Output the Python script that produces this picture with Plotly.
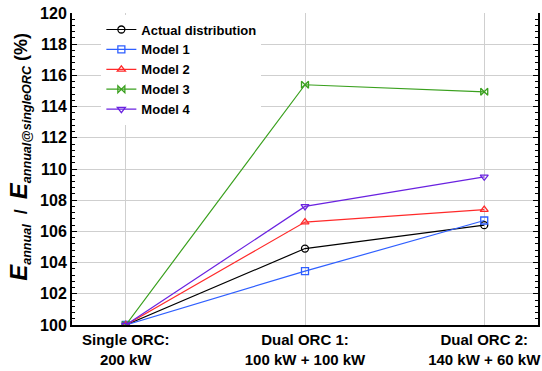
import plotly.graph_objects as go

# Configurations compared
categories = ["Single ORC:<br>200 kW", "Dual ORC 1:<br>100 kW + 100 kW", "Dual ORC 2:<br>140 kW + 60 kW"]

# Annual energy relative to the single-ORC case (%)
actual = [100.0, 104.9, 106.4]
model1 = [100.0, 103.45, 106.7]
model2 = [100.0, 106.6, 107.4]
model3 = [100.0, 115.4, 114.95]
model4 = [100.0, 107.6, 109.5]

series = [
    ("Actual distribution", actual, "#000000", "circle-open"),
    ("Model 1", model1, "#2f5fff", "square-open"),
    ("Model 2", model2, "#ff2a2a", "triangle-up-open"),
    ("Model 3", model3, "#3aa01e", "bowtie-open"),
    ("Model 4", model4, "#6a22e0", "triangle-down-open"),
]

FONT = "Liberation Sans, Arial, sans-serif"

fig = go.Figure()
for name, vals, color, symbol in series:
    fig.add_trace(go.Scatter(
        x=list(range(len(categories))), y=vals, name=f"<b>{name}</b>",
        mode="lines+markers",
        line=dict(color=color, width=1.2),
        marker=dict(symbol=symbol, size=7, color=color, line=dict(color=color, width=1.3)),
    ))

fig.update_layout(
    width=542, height=371,
    margin=dict(l=72, r=2, t=13, b=46),
    plot_bgcolor="white", paper_bgcolor="white",
    font=dict(family=FONT, color="black"),
    showlegend=True,
    legend=dict(
        x=0.063, y=0.995, xanchor="left", yanchor="top",
        bgcolor="white", borderwidth=0,
        font=dict(family=FONT, size=13, color="black"),
        tracegroupgap=0, itemwidth=30,
    ),
    xaxis=dict(
        range=[-0.3, 2.3],
        tickmode="array", tickvals=list(range(len(categories))), ticktext=[f"<b>{c}</b>" for c in categories],
        tickfont=dict(family=FONT, size=15, color="black"),
        showgrid=True, gridcolor="#cfcfcf", gridwidth=1.2,
        showline=True, linecolor="black", linewidth=2,
        ticks="", zeroline=False,
    ),
    yaxis=dict(
        range=[100, 120], dtick=2, tick0=100,
        tickfont=dict(family=FONT, size=16, color="black"),
        tickprefix="<b>", ticksuffix="</b>",
        showgrid=True, gridcolor="#cfcfcf", gridwidth=1.2,
        showline=True, linecolor="black", linewidth=2, mirror="ticks",
        ticks="inside", ticklen=5, tickcolor="black", tickwidth=1,
        minor=dict(dtick=0.4, ticks="inside", ticklen=3, tickcolor="black", tickwidth=1, showgrid=False),
        zeroline=False,
    ),
)

# Rotated axis title with italic symbols and subscripts
fig.add_annotation(
    xref="paper", yref="paper", x=-0.113, y=0.54,
    xanchor="center", yanchor="middle", textangle=-90, showarrow=False,
    text=("<b><span style='font-size:24px'><i>E</i></span><sub><i>annual</i></sub>"
          " &nbsp;/ &nbsp;<span style='font-size:24px'><i>E</i></span><sub><i>annual@singleORC</i></sub> (%)</b>"),
    font=dict(family=FONT, size=18, color="black"),
)

fig.write_html("out.html")
